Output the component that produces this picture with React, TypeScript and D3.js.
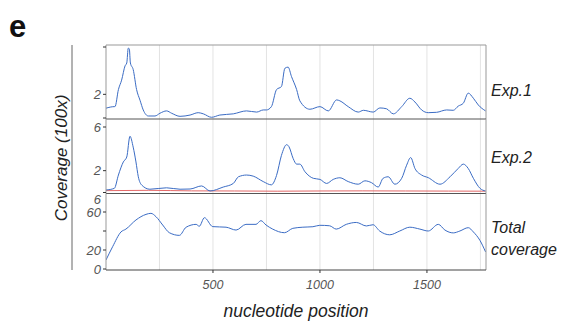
import React from "react";
import * as d3 from "d3";

const exp1Pos = [0, 39, 42, 58, 73, 89, 97, 104, 109, 114, 127, 143, 159, 174, 198, 229, 252, 283, 307, 346, 393, 431, 455, 493, 532, 595, 657, 704, 735, 750, 773, 797, 820, 836, 851, 867, 891, 906, 953, 1000, 1039, 1078, 1093, 1132, 1179, 1203, 1249, 1280, 1311, 1343, 1382, 1420, 1444, 1475, 1506, 1545, 1592, 1623, 1646, 1670, 1693, 1717, 1740, 1774];
const exp1Val = [0.83, 0.96, 0.96, 2.4, 3.2, 4.4, 4.65, 5.9, 5.85, 4.65, 4.1, 2.4, 1.5, 0.68, 0.17, 0.17, 0.4, 0.6, 0.4, 0.14, 0.25, 0.45, 0.35, 0.06, 0.25, 0.35, 0.6, 0.5, 0.68, 0.68, 0.96, 2.4, 2.66, 4.2, 4.3, 3.5, 2.4, 1.45, 0.74, 0.96, 0.6, 1.53, 1.45, 0.96, 0.5, 0.65, 0.5, 0.85, 0.78, 0.35, 0.96, 1.67, 1.35, 0.68, 0.45, 0.48, 0.68, 0.65, 1.0, 1.25, 2.1, 1.67, 1.1, 0.6];

const exp2Pos = [0, 39, 58, 81, 97, 112, 127, 140, 151, 167, 205, 283, 346, 393, 447, 486, 548, 595, 619, 657, 688, 735, 773, 797, 820, 844, 855, 875, 891, 906, 930, 969, 1000, 1031, 1062, 1093, 1132, 1179, 1210, 1241, 1272, 1295, 1319, 1350, 1382, 1405, 1424, 1444, 1475, 1506, 1561, 1608, 1646, 1670, 1693, 1717, 1748, 1774];
const exp2Val = [0.23, 0.38, 1.6, 2.8, 3.25, 5.15, 4.16, 2.8, 1.44, 0.68, 0.3, 0.43, 0.3, 0.32, 0.6, 0.14, 0.5, 0.83, 1.44, 1.6, 1.5, 1.0, 0.7, 1.56, 3.4, 4.38, 4.2, 3.1, 2.6, 2.6, 1.9, 1.3, 1.2, 0.83, 1.2, 1.35, 1.0, 0.76, 1.07, 0.9, 0.5, 1.3, 1.44, 0.76, 1.3, 2.5, 3.2, 2.2, 1.6, 1.36, 0.76, 1.44, 2.2, 2.6, 2.2, 1.3, 0.38, 0.14];

const ctrlPos = [0, 200, 400, 600, 800, 1000, 1200, 1400, 1600, 1774];
const ctrlVal = [0.17, 0.2, 0.15, 0.14, 0.12, 0.14, 0.15, 0.14, 0.13, 0.12];

const totalPos = [0, 31, 70, 93, 140, 187, 210, 234, 265, 296, 343, 374, 421, 436, 460, 499, 561, 608, 654, 701, 724, 748, 779, 834, 873, 920, 967, 999, 1045, 1076, 1123, 1170, 1217, 1248, 1279, 1326, 1373, 1420, 1467, 1506, 1553, 1584, 1623, 1654, 1693, 1717, 1748, 1774];
const totalVal = [9.5, 23.5, 39, 42, 51.6, 57.5, 58.6, 55, 46.3, 38.2, 35.4, 43.9, 47, 45, 54, 44.6, 44, 41, 47, 47, 50.9, 46.3, 42, 38.2, 42.8, 44, 44.5, 46, 45.5, 42, 47, 49, 45.3, 46.6, 40, 36, 40, 44, 42, 40, 47, 41, 38, 40, 43.5, 39, 30, 18];

const xTicks = [500, 1000, 1500];
const gridTicks = [250, 500, 750, 1000, 1250, 1500, 1750];
const panelLabels = [["Exp.1"], ["Exp.2"], ["Total", "coverage"]];

export default function App() {
  const W = 582, H = 323;
  const x = d3.scaleLinear().domain([0, 1776]).range([106, 486]);

  const panels = [
    { top: 45, bottom: 119, y: d3.scaleLinear().domain([0, 6]).range([118, 47]), ticks: [0, 2, 6], labels: [[2, "2"]] as [number, string][],
      series: [{ pos: exp1Pos, val: exp1Val, color: "#3b6cc4" }], lab: panelLabels[0], labY: [96] },
    { top: 119, bottom: 193.5, y: d3.scaleLinear().domain([0, 6]).range([192.5, 127]), ticks: [0, 2, 6], labels: [[6, "6"], [2, "2"]] as [number, string][],
      series: [{ pos: ctrlPos, val: ctrlVal, color: "#e46a6a" }, { pos: exp2Pos, val: exp2Val, color: "#3b6cc4" }], lab: panelLabels[1], labY: [163] },
    { top: 193.5, bottom: 270, y: d3.scaleLinear().domain([0, 60]).range([269, 212]), ticks: [0, 20, 40, 60], labels: [[0, "0"], [20, "20"], [60, "60"], [73, "6"]] as [number, string][],
      series: [{ pos: totalPos, val: totalVal, color: "#3b6cc4" }], lab: panelLabels[2], labY: [233, 255] },
  ];

  const font = "'Liberation Sans', Arial, Helvetica, sans-serif";

  return (
    <svg width={W} height={H} style={{ position: "absolute", left: 0, top: 0, background: "#fff" }} fontFamily={font}>
      <text x={9} y={37} fontSize={31} fontWeight="bold" fill="#111">e</text>
      <line x1={72} x2={72} y1={45} y2={270} stroke="#666" strokeWidth={1} />
      <text transform="translate(67,158) rotate(-90)" textAnchor="middle" fontSize={17} fontStyle="italic" fill="#222">Coverage (100x)</text>
      {panels.map((p, i) => {
        const line = d3.line<number>().x((_, j) => x(p.series[0].pos[j])).y((v) => p.y(v)).curve(d3.curveMonotoneX);
        return (
          <g key={i}>
            <rect x={106} y={p.top} width={380} height={p.bottom - p.top} fill="#fff" stroke="none" />
            {gridTicks.map((t) => (
              <line key={t} x1={x(t)} x2={x(t)} y1={p.top} y2={p.bottom} stroke="#dcdcdc" strokeWidth={0.8} />
            ))}
            <clipPath id={`clip${i}`}>
              <rect x={106} y={p.top} width={380} height={p.bottom - p.top} />
            </clipPath>
            <g clipPath={`url(#clip${i})`}>
              {p.series.map((s, k) => {
                const l = d3.line<number>().x((_, j) => x(s.pos[j])).y((v) => p.y(v)).curve(d3.curveMonotoneX);
                return <path key={k} d={l(s.val) || ""} fill="none" stroke={s.color} strokeWidth={1} />;
              })}
            </g>
            <line x1={106} x2={486} y1={p.top} y2={p.top} stroke={i === 0 ? "#999" : "#555"} strokeWidth={1} />
            <line x1={486} x2={486} y1={p.top} y2={p.bottom} stroke="#999" strokeWidth={1} />
            <line x1={106} x2={106} y1={p.top} y2={p.bottom} stroke="#999" strokeWidth={1} />
            {p.ticks.map((t) => (
              <line key={t} x1={103} x2={106} y1={p.y(t)} y2={p.y(t)} stroke="#333" strokeWidth={1} />
            ))}
            {p.labels.map(([v, s]) => (
              <text key={s + v} x={101} y={p.y(v)} dy="0.36em" textAnchor="end" fontSize={13} fontStyle="italic" fill="#555">{s}</text>
            ))}
            {p.lab.map((s, k) => (
              <text key={s} x={491} y={p.labY[k]} fontSize={16} fontStyle="italic" fill="#222">{s}</text>
            ))}
          </g>
        );
      })}
      <line x1={106} x2={486} y1={270} y2={270} stroke="#444" strokeWidth={1} />
      {xTicks.map((t) => (
        <g key={t}>
          <line x1={x(t)} x2={x(t)} y1={270} y2={273} stroke="#333" />
          <text x={x(t)} y={289} textAnchor="middle" fontSize={12.5} fontStyle="italic" fill="#555">{t}</text>
        </g>
      ))}
      <text x={296} y={317} textAnchor="middle" fontSize={17.5} fontStyle="italic" fill="#222">nucleotide position</text>
    </svg>
  );
}
